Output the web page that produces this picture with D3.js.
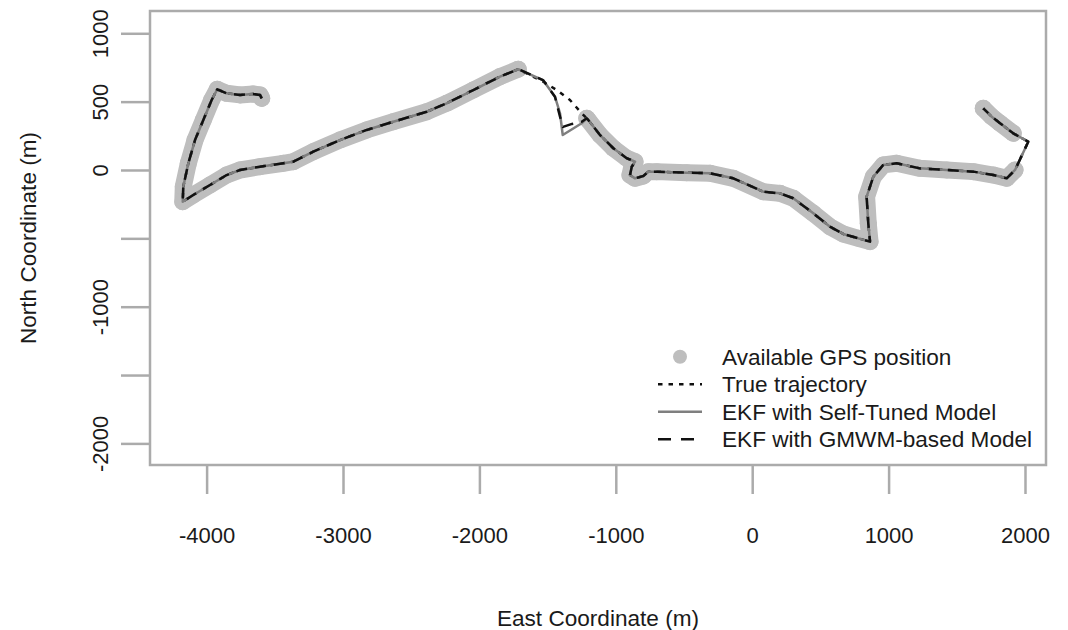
<!DOCTYPE html>
<html>
<head>
<meta charset="utf-8">
<script src="https://cdnjs.cloudflare.com/ajax/libs/d3/7.8.5/d3.min.js"></script>
<style>
  body { margin: 0; background: #fff; }
  svg { font-family: "Liberation Sans", Arial, Helvetica, sans-serif; }
</style>
</head>
<body>
<svg id="chart" width="1068" height="630"></svg>
<script>
// GPS track pieces, [east, north] in metres (gaps where no GPS fix)
var gpsStart = [
  [-3596, 524], [-3608, 549], [-3660, 556], [-3755, 549], [-3853, 561], [-3922, 590],
  [-3963, 512], [-4024, 366], [-4085, 219], [-4134, 49], [-4171, -122], [-4175, -232],
  [-4098, -183], [-3975, -110], [-3853, -37], [-3755, 0], [-3608, 24], [-3438, 49],
  [-3364, 61], [-3218, 134], [-3022, 219], [-2826, 293], [-2631, 353], [-2386, 426],
  [-2240, 488], [-2045, 585], [-1849, 683], [-1715, 737]
];
var gpsMiddle = [
  [-1213, 378], [-1202, 366], [-1116, 256], [-1018, 159], [-920, 86], [-859, 61],
  [-883, 24], [-896, -37], [-859, -61], [-798, -44], [-762, -12], [-700, -12],
  [-480, -20], [-309, -24], [-139, -61], [81, -159], [204, -171], [301, -207],
  [448, -317], [570, -415], [668, -468], [778, -500], [864, -524], [851, -390],
  [839, -195], [888, -49], [961, 37], [1059, 49], [1230, 12], [1426, 0],
  [1621, -12], [1768, -37], [1866, -61], [1927, 0]
];
var gpsEnd = [[1914, 268], [1817, 342], [1756, 390], [1694, 451]];

// where the filters run without GPS
var trueGap1 = [[-1532, 646], [-1433, 585], [-1336, 512], [-1250, 415]];
var selfTunedGap1 = [[-1534, 658], [-1446, 536], [-1409, 415], [-1389, 256], [-1250, 342]];
var gmwmGap1 = [[-1534, 658], [-1446, 536], [-1409, 390], [-1387, 315], [-1321, 337], [-1250, 353]];
var gap2 = [[2024, 207]];

var xTicks = [-4000, -3000, -2000, -1000, 0, 1000, 2000];
var yTicks = [1000, 500, 0, -500, -1000, -1500, -2000];
var yLabelled = [1000, 500, 0, -1000, -2000];

var legendLabels = ['Available GPS position', 'True trajectory',
  'EKF with Self-Tuned Model', 'EKF with GMWM-based Model'];

var trueLine = gpsStart.concat(trueGap1, gpsMiddle, gap2, gpsEnd);
var selfTunedLine = gpsStart.concat(selfTunedGap1, gpsMiddle, gap2, gpsEnd);
var gmwmLine = gpsStart.concat(gmwmGap1, gpsMiddle, gap2, gpsEnd);

var svg = d3.select('#chart');
var box = {left: 150, right: 1046, top: 11, bottom: 465};
var fontSize = '22.6px';

var x = d3.scaleLinear().domain([-4415, 2154]).range([box.left, box.right]);
var y = d3.scaleLinear().domain([-2158, 1163]).range([box.bottom, box.top]);

var line = d3.line()
  .x(function(d) { return x(d[0]); })
  .y(function(d) { return y(d[1]); });

var gpsColor = '#bebebe';
var axisColor = '#ababab';

// GPS positions: dense dots, drawn as a round-capped band plus the dots
var gps = svg.append('g').attr('class', 'gps');
[gpsStart, gpsMiddle, gpsEnd].forEach(function(seg) {
  gps.append('path')
    .attr('d', line(seg))
    .attr('fill', 'none')
    .attr('stroke', gpsColor)
    .attr('stroke-width', 17)
    .attr('stroke-linecap', 'round')
    .attr('stroke-linejoin', 'round');
  gps.selectAll(null).data(seg).enter()
    .append('circle')
      .attr('cx', function(d) { return x(d[0]); })
      .attr('cy', function(d) { return y(d[1]); })
      .attr('r', 8.5)
      .attr('fill', gpsColor);
});

var lineStyles = [
  {data: trueLine, color: '#111', dash: '4.5,6'},
  {data: selfTunedLine, color: '#7f7f7f', dash: null},
  {data: gmwmLine, color: '#111', dash: '11,8'}
];

lineStyles.forEach(function(s) {
  svg.append('path')
    .attr('d', line(s.data))
    .attr('fill', 'none')
    .attr('stroke', s.color)
    .attr('stroke-width', 2.5)
    .attr('stroke-dasharray', s.dash)
    .attr('stroke-linejoin', 'round');
});

// plot frame
svg.append('rect')
  .attr('x', box.left).attr('y', box.top)
  .attr('width', box.right - box.left).attr('height', box.bottom - box.top)
  .attr('fill', 'none').attr('stroke', axisColor).attr('stroke-width', 2.5);

// axes
var xAxis = svg.append('g')
  .attr('transform', 'translate(0,' + box.bottom + ')')
  .call(d3.axisBottom(x).tickValues(xTicks).tickSize(29).tickPadding(33)
    .tickFormat(function(d) { return d; }));

var yAxis = svg.append('g')
  .attr('transform', 'translate(' + box.left + ',0)')
  .call(d3.axisLeft(y).tickValues(yTicks).tickSize(29)
    .tickFormat(function(d) { return yLabelled.indexOf(d) >= 0 ? d : ''; }));

[xAxis, yAxis].forEach(function(a) {
  a.select('.domain').remove();
  a.selectAll('.tick line').attr('stroke', axisColor).attr('stroke-width', 2.5);
  a.selectAll('.tick text')
    .attr('fill', '#1a1a1a')
    .style('font-size', '22px')
    .style('font-family', '"Liberation Sans", Arial, sans-serif');
});

yAxis.selectAll('.tick text')
  .attr('transform', 'rotate(-90)')
  .attr('x', 0)
  .attr('y', -42)
  .attr('dy', null)
  .attr('text-anchor', 'middle');

// axis titles
svg.append('text')
  .attr('x', (box.left + box.right) / 2)
  .attr('y', 626)
  .attr('text-anchor', 'middle')
  .attr('fill', '#1a1a1a')
  .style('font-size', fontSize)
  .text('East Coordinate (m)');

svg.append('text')
  .attr('transform', 'translate(36,' + (box.top + box.bottom) / 2 + ') rotate(-90)')
  .attr('text-anchor', 'middle')
  .attr('fill', '#1a1a1a')
  .style('font-size', fontSize)
  .text('North Coordinate (m)');

// legend (no box)
var legend = svg.append('g').attr('class', 'legend');
var rowY = function(i) { return 356.7 + i * 27.5; };

legend.append('circle')
  .attr('cx', 680).attr('cy', rowY(0)).attr('r', 7)
  .attr('fill', gpsColor);

lineStyles.forEach(function(s, i) {
  legend.append('line')
    .attr('x1', 658).attr('x2', 702)
    .attr('y1', rowY(i + 1)).attr('y2', rowY(i + 1))
    .attr('stroke', s.color)
    .attr('stroke-width', 2.5)
    .attr('stroke-dasharray', s.dash === '11,8' ? '13,10' : s.dash);
});

legend.selectAll('text.label')
  .data(legendLabels).enter()
  .append('text')
    .attr('class', 'label')
    .attr('x', 722)
    .attr('y', function(d, i) { return rowY(i) + 8; })
    .attr('fill', '#1a1a1a')
    .style('font-size', fontSize)
    .text(function(d) { return d; });
</script>
</body>
</html>
